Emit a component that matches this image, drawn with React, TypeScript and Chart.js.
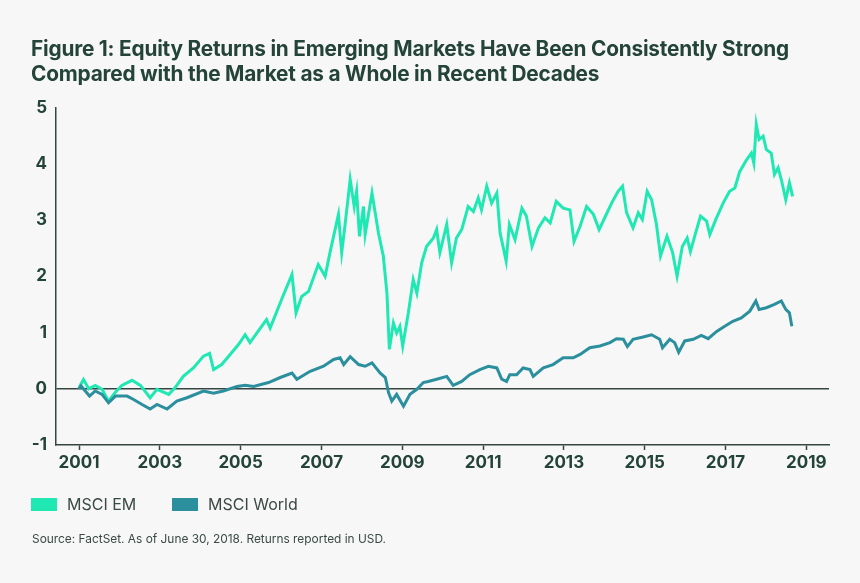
import React, { useEffect, useRef } from "react";
import { Chart, registerables } from "chart.js";

Chart.register(...registerables);

const emDates = [
  2001.0, 2001.03, 2001.11, 2001.24, 2001.4, 2001.57, 2001.73, 2001.9, 2002.06, 2002.31, 2002.52, 2002.76, 2002.93,
  2003.22, 2003.38, 2003.58, 2003.83, 2004.08, 2004.23, 2004.33, 2004.53, 2004.74, 2004.95, 2005.11, 2005.23,
  2005.64, 2005.73, 2006.06, 2006.27, 2006.37, 2006.51, 2006.68, 2006.92, 2007.09, 2007.21, 2007.42, 2007.5,
  2007.58, 2007.71, 2007.81, 2007.87, 2007.94, 2008.04, 2008.08, 2008.25, 2008.41, 2008.53, 2008.62, 2008.68,
  2008.78, 2008.86, 2008.94, 2009.01, 2009.15, 2009.27, 2009.36, 2009.48, 2009.6, 2009.77, 2009.85, 2009.93,
  2010.1, 2010.22, 2010.34, 2010.47, 2010.63, 2010.76, 2010.88, 2010.96, 2011.09, 2011.21, 2011.34, 2011.42,
  2011.57, 2011.65, 2011.79, 2011.96, 2012.07, 2012.21, 2012.37, 2012.53, 2012.66, 2012.81, 2012.98, 2013.15,
  2013.25, 2013.4, 2013.56, 2013.73, 2013.87, 2014.01, 2014.18, 2014.34, 2014.45, 2014.55, 2014.71, 2014.84,
  2014.94, 2015.06, 2015.17, 2015.29, 2015.39, 2015.55, 2015.69, 2015.8, 2015.93, 2016.05, 2016.13, 2016.26,
  2016.38, 2016.53, 2016.61, 2016.76, 2016.94, 2017.1, 2017.23, 2017.35, 2017.52, 2017.64, 2017.7, 2017.76,
  2017.83, 2017.93, 2018.01, 2018.13, 2018.21, 2018.3, 2018.38, 2018.49, 2018.58, 2018.66,
];
const emValues = [
  0.0, 0.06, 0.165, 0.0, 0.06, -0.01, -0.22, -0.06, 0.06, 0.15, 0.06, -0.16, -0.01,
  -0.1, 0.02, 0.22, 0.37, 0.58, 0.63, 0.34, 0.43, 0.61, 0.79, 0.96, 0.82,
  1.23, 1.08, 1.67, 2.03, 1.35, 1.64, 1.73, 2.21, 2.0, 2.42, 3.1, 2.42,
  2.89, 3.72, 3.24, 3.51, 2.71, 3.24, 2.74, 3.48, 2.77, 2.36, 1.7, 0.7,
  1.17, 0.99, 1.11, 0.76, 1.35, 1.94, 1.7, 2.24, 2.53, 2.68, 2.83, 2.42,
  2.92, 2.24, 2.68, 2.83, 3.24, 3.15, 3.39, 3.18, 3.6, 3.3, 3.48, 2.77,
  2.27, 2.92, 2.65, 3.21, 3.07, 2.53, 2.86, 3.04, 2.95, 3.33, 3.21, 3.18,
  2.62, 2.89, 3.24, 3.1, 2.83, 3.04, 3.3, 3.51, 3.6, 3.13, 2.86, 3.13,
  3.01, 3.51, 3.36, 2.92, 2.36, 2.71, 2.42, 2.0, 2.53, 2.68, 2.44, 2.77,
  3.07, 2.98, 2.74, 3.01, 3.3, 3.51, 3.57, 3.86, 4.07, 4.19, 4.01, 4.7,
  4.43, 4.49, 4.25, 4.19, 3.81, 3.93, 3.72, 3.36, 3.66, 3.42,
];

const worldDates = [
  2001.0, 2001.05, 2001.26, 2001.4, 2001.57, 2001.73, 2001.9, 2002.19, 2002.35, 2002.56, 2002.76, 2002.93, 2003.18,
  2003.42, 2003.67, 2004.08, 2004.33, 2004.57, 2004.91, 2005.11, 2005.32, 2005.69, 2005.98, 2006.27, 2006.39,
  2006.72, 2007.05, 2007.3, 2007.46, 2007.55, 2007.71, 2007.92, 2008.08, 2008.25, 2008.45, 2008.58, 2008.66,
  2008.74, 2008.86, 2009.03, 2009.19, 2009.36, 2009.52, 2009.64, 2009.85, 2010.1, 2010.26, 2010.47, 2010.67,
  2010.92, 2011.13, 2011.34, 2011.46, 2011.58, 2011.66, 2011.83, 2011.99, 2012.16, 2012.24, 2012.49, 2012.73,
  2012.98, 2013.23, 2013.4, 2013.64, 2013.89, 2014.14, 2014.3, 2014.47, 2014.57, 2014.71, 2014.96, 2015.17,
  2015.37, 2015.44, 2015.62, 2015.74, 2015.84, 2015.99, 2016.2, 2016.4, 2016.57, 2016.78, 2016.98, 2017.18,
  2017.39, 2017.6, 2017.75, 2017.83, 2018.01, 2018.21, 2018.38, 2018.49, 2018.58, 2018.64,
];
const worldValues = [
  0.0, 0.05, -0.13, -0.04, -0.1, -0.25, -0.13, -0.13, -0.19, -0.28, -0.36, -0.28, -0.36,
  -0.22, -0.16, -0.04, -0.08, -0.04, 0.04, 0.06, 0.04, 0.11, 0.2, 0.28, 0.17,
  0.31, 0.4, 0.52, 0.55, 0.43, 0.57, 0.43, 0.4, 0.46, 0.28, 0.2, -0.07,
  -0.22, -0.1, -0.31, -0.1, -0.01, 0.11, 0.13, 0.17, 0.22, 0.06, 0.13, 0.25,
  0.34, 0.4, 0.37, 0.17, 0.13, 0.25, 0.25, 0.37, 0.34, 0.22, 0.37, 0.43,
  0.55, 0.55, 0.61, 0.73, 0.76, 0.82, 0.89, 0.88, 0.75, 0.88, 0.92, 0.96,
  0.88, 0.73, 0.88, 0.82, 0.65, 0.85, 0.88, 0.95, 0.89, 1.02, 1.11, 1.2,
  1.26, 1.38, 1.56, 1.41, 1.44, 1.5, 1.56, 1.41, 1.35, 1.11,
];

const xTickYears = [2001, 2003, 2005, 2007, 2009, 2011, 2013, 2015, 2017, 2019];
const yTickValues = [-1, 0, 1, 2, 3, 4, 5];

const seriesNames = ["MSCI EM", "MSCI World"];
const seriesColors = ["#1fe8b2", "#2b8f9d"];

const titleLines = [
  "Figure 1: Equity Returns in Emerging Markets Have Been Consistently Strong",
  "Compared with the Market as a Whole in Recent Decades",
];
const sourceText = "Source: FactSet. As of June 30, 2018. Returns reported in USD.";

const TEXT = "#24443a";
const AXIS = "#34463f";
const BG = "#f7f7f7";
const FONT = "Inter, 'Noto Sans', sans-serif";

export default function App() {
  const canvasRef = useRef<HTMLCanvasElement | null>(null);

  useEffect(() => {
    const canvas = canvasRef.current;
    if (!canvas) return;
    const em = emDates.map((d, i) => ({ x: d, y: emValues[i] }));
    const world = worldDates.map((d, i) => ({ x: d, y: worldValues[i] }));
    const chart = new Chart(canvas, {
      type: "line",
      data: {
        datasets: [
          {
            label: seriesNames[1],
            data: world,
            borderColor: seriesColors[1],
            borderWidth: 3,
            pointRadius: 0,
            tension: 0,
          },
          {
            label: seriesNames[0],
            data: em,
            borderColor: seriesColors[0],
            borderWidth: 3,
            pointRadius: 0,
            tension: 0,
          },
        ],
      },
      options: {
        animation: false,
        responsive: true,
        maintainAspectRatio: false,
        layout: { padding: { top: 107.5, right: 31, bottom: 98, left: 0 } },
        plugins: { legend: { display: false }, tooltip: { enabled: false }, title: { display: false } },
        scales: {
          x: {
            type: "linear",
            min: 2000.43,
            max: 2019.56,
            afterBuildTicks: (scale: any) => {
              scale.ticks = xTickYears.map((v) => ({ value: v }));
            },
            afterFit: (scale: any) => {
              scale.height = 40;
            },
            ticks: {
              autoSkip: false,
              maxRotation: 0,
              color: TEXT,
              font: { family: FONT, size: 17, weight: "bold" },
              padding: 3,
              callback: (v: any) => String(v),
            },
            grid: {
              drawOnChartArea: false,
              drawTicks: true,
              tickLength: 5,
              tickColor: AXIS,
              tickWidth: 1.5,
            },
            border: { display: true, color: AXIS, width: 1.5 },
          },
          y: {
            min: -1,
            max: 5,
            afterBuildTicks: (scale: any) => {
              scale.ticks = yTickValues.map((v) => ({ value: v }));
            },
            afterFit: (scale: any) => {
              scale.width = 56;
            },
            ticks: {
              color: TEXT,
              font: { family: FONT, size: 17, weight: "bold" },
              padding: 9,
              callback: (v: any) => String(v),
            },
            grid: {
              drawTicks: false,
              lineWidth: 1.5,
              color: (ctx: any) => (ctx.tick && ctx.tick.value === 0 ? AXIS : "rgba(0,0,0,0)"),
            },
            border: { display: true, color: AXIS, width: 1.5 },
          },
        },
      },
    });
    return () => chart.destroy();
  }, []);

  return (
    <div
      style={{
        position: "fixed",
        left: 0,
        top: 0,
        width: 860,
        height: 583,
        background: BG,
        fontFamily: FONT,
        overflow: "hidden",
      }}
    >
      <div style={{ position: "absolute", left: 0, top: 0, width: 860, height: 583 }}>
        <canvas ref={canvasRef} />
      </div>
      <div
        style={{
          position: "absolute",
          left: 31,
          top: 36,
          color: TEXT,
          fontSize: 20.8,
          fontWeight: 700,
          lineHeight: "25px",
          letterSpacing: "-0.2px",
          whiteSpace: "nowrap",
        }}
      >
        {titleLines.map((t, i) => (
          <div key={i}>{t}</div>
        ))}
      </div>
      <div
        style={{
          position: "absolute",
          left: 31,
          top: 494,
          display: "flex",
          alignItems: "center",
          color: "#3a4a44",
          fontSize: 16,
        }}
      >
        {seriesNames.map((n, i) => (
          <div key={n} style={{ display: "flex", alignItems: "center", width: i === 0 ? 141 : undefined }}>
            <span style={{ display: "inline-block", width: 26, height: 13, background: seriesColors[i], marginRight: 10 }} />
            <span>{n}</span>
          </div>
        ))}
      </div>
      <div
        style={{
          position: "absolute",
          left: 32,
          top: 531,
          color: "#3a4a44",
          fontSize: 11.9,
          whiteSpace: "nowrap",
        }}
      >
        {sourceText}
      </div>
    </div>
  );
}
